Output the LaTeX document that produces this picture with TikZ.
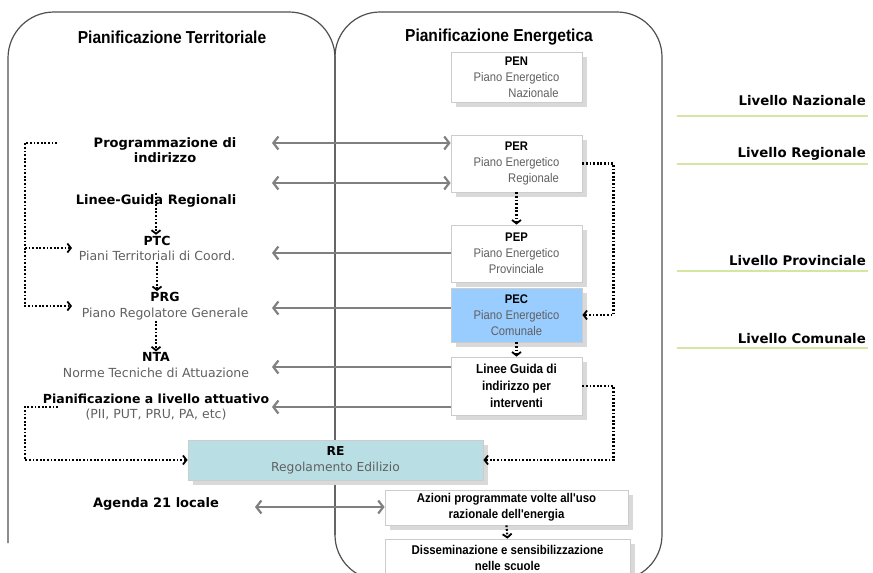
\documentclass[tikz,border=0pt]{standalone}
\usepackage{fontspec}
\newfontfamily\arialn{Liberation Sans}[FakeStretch=0.9]
\newfontfamily\verd{DejaVu Sans}
\usetikzlibrary{arrows.meta,shadows}
\definecolor{pecblue}{HTML}{99CCFF}
\definecolor{recyan}{HTML}{B9DFE4}
\definecolor{txtgray}{HTML}{606060}
\definecolor{arrgray}{HTML}{808080}
\definecolor{lvlgreen}{HTML}{D5E6A0}
\definecolor{framegray}{HTML}{505050}

\begin{document}
\begin{tikzpicture}[x=1pt,y=-1pt,
	frame/.style={draw=framegray,line width=1.2pt},
	plan/.style={draw=black!20,fill=white,line width=0.8pt,minimum width=131pt,align=center,inner sep=1pt,
		drop shadow={shadow xshift=5pt,shadow yshift=-5pt,fill=black!15,opacity=1},
		font=\arialn\fontsize{12.5}{16}\selectfont},
	title/.style={font=\arialn\bfseries\fontsize{17.3}{20}\selectfont},
	lbl/.style={align=center,inner sep=1pt,text=txtgray,font=\verd\fontsize{12.5}{15.5}\selectfont},
	lblb/.style={align=center,inner sep=1pt,font=\verd\bfseries\fontsize{13}{14.5}\selectfont},
	level/.style={anchor=east,inner sep=0pt,font=\verd\bfseries\fontsize{13.3}{15}\selectfont},
	levelline/.style={draw=lvlgreen,line width=2pt},
	grayline/.style={draw=arrgray,line width=2.8pt,>={Straight Barb[length=5pt,width=13pt,line width=2.2pt]}},
	dotline/.style={draw=black,line width=2.2pt,dash pattern=on 1.8pt off 1.8pt,>={Straight Barb[length=3.5pt,width=9pt,line width=1.8pt]}}]
	\useasboundingbox (0,0) rectangle (873,573);
	\clip (0,0) rectangle (873,573);

	% frames
	\draw[frame,rounded corners=46pt] (8,543) -- (8,12) -- (335,12) -- (335,535);
	\draw[frame,rounded corners=45pt] (335,12) rectangle (662,580);
	\node[title] (tterr) at (172,37) {Pianificazione Territoriale};
	\node[title] (tener) at (499,37) {Pianificazione Energetica};

	% levels
	\node[level] (lvnaz) at (866,101) {Livello Nazionale};
	\node[level] (lvreg) at (866,154) {Livello Regionale};
	\node[level] (lvpro) at (866,261) {Livello Provinciale};
	\node[level] (lvcom) at (866,339) {Livello Comunale};
	\draw[levelline] (677,116) -- (868,116);
	\draw[levelline] (677,164) -- (868,164);
	\draw[levelline] (677,271) -- (868,271);
	\draw[levelline] (677,348) -- (868,348);

	% energy plans
	\node[plan,minimum height=50pt] (pen) at (516.5,77) {\textbf{PEN}\\{\color{txtgray}Piano Energetico}\\\hspace*{34pt}{\color{txtgray}Nazionale}};
	\node[plan,minimum height=57pt] (per) at (516.5,163.5) {\textbf{PER}\\{\color{txtgray}Piano Energetico}\\\hspace*{34pt}{\color{txtgray}Regionale}};
	\node[plan,minimum height=57pt] (pep) at (516.5,253.5) {\textbf{PEP}\\{\color{txtgray}Piano Energetico}\\{\color{txtgray}Provinciale}};
	\node[plan,minimum height=54pt,fill=pecblue] (pec) at (516.5,315) {\textbf{PEC}\\{\color{txtgray}Piano Energetico}\\{\color{txtgray}Comunale}};
	\node[plan,minimum height=58pt,font=\arialn\bfseries\fontsize{13}{17}\selectfont] (lg) at (516.5,386) {Linee Guida di\\indirizzo per\\interventi};
	\node[plan,minimum width=295pt,minimum height=40pt,fill=recyan,font=\verd\fontsize{12.3}{16}\selectfont] (re) at (335.5,460) {\textbf{RE}\\{\color{txtgray}Regolamento Edilizio}};
	\node[plan,minimum width=243pt,minimum height=35pt,font=\arialn\bfseries\fontsize{12.7}{16}\selectfont] (az) at (506.5,507.5) {Azioni programmate volte all'uso\\razionale dell'energia};
	\node[plan,minimum width=245pt,minimum height=38pt,font=\arialn\bfseries\fontsize{12.7}{16}\selectfont] (ds) at (507.5,558) {Disseminazione e sensibilizzazione\\nelle scuole};

	% territorial plans
	\node[lblb] (prog) at (165,150) {Programmazione di\\indirizzo};
	\node[lblb] (lgr) at (156,201) {Linee-Guida Regionali};
	\node[lbl] (ptc) at (157,248.5) {{\color{black}\textbf{PTC}}\\Piani Territoriali di Coord.};
	\node[lbl] (prg) at (165,306) {{\color{black}\textbf{PRG}}\\Piano Regolatore Generale};
	\node[lbl] (nta) at (156,365) {{\color{black}\textbf{NTA}}\\Norme Tecniche di Attuazione};
	\node[lbl] (pla) at (156,407) {{\color{black}\textbf{Pianificazione a livello attuativo}}\\(PII, PUT, PRU, PA, etc)};
	\node[lblb] (ag21) at (156,504) {Agenda 21 locale};

	% gray links
	\coordinate (g1) at (272,143);
	\coordinate (g2) at (272,183);
	\coordinate (g3) at (272,253);
	\coordinate (g4) at (272,308);
	\coordinate (g5) at (272,367);
	\coordinate (g6) at (272,407);
	\coordinate (g7) at (255,507);
	\draw[grayline,<->] (g1) -- (g1 -| per.west);
	\draw[grayline,<->] (g2) -- (g2 -| per.west);
	\draw[grayline,<-] (g3) -- (g3 -| pep.west);
	\draw[grayline,<-] (g4) -- (g4 -| pec.west);
	\draw[grayline,<-] (g5) -- (g5 -| lg.west);
	\draw[grayline,<-] (g6) -- (g6 -| lg.west);
	\draw[grayline,<->] (g7) -- (g7 -| az.west);

	% dotted links
	\coordinate (bk1) at (57,143);
	\coordinate (ptcout) at (25,248);
	\coordinate (ptcin) at (72,248);
	\coordinate (prgin) at (72,306);
	\coordinate (bk2) at (58,407);
	\draw[dotline,->] (bk1) -- ++(-32,0) |- (prgin);
	\draw[dotline,->] (ptcout) -- (ptcin);
	\draw[dotline,->] (bk2) -- ++(-33,0) |- (re.west);
	\draw[dotline,->] (lgr.north) -- (lgr.north |- ptc.north);
	\draw[dotline,->] (ptc.south) -- (ptc.south |- prg.north);
	\draw[dotline,->] (prg.south -| nta.north) -- (nta.north);
	\draw[dotline,->] (per.south) -- (pep.north);
	\draw[dotline,->] (pec.south) -- (lg.north);
	\draw[dotline,->] (az.south) -- (ds.north);
	\draw[dotline,->] (per.east) -- ++(31,0) |- (pec.east);
	\draw[dotline,->] (lg.east) -- ++(31,0) |- (re.east);
\end{tikzpicture}
\end{document}
